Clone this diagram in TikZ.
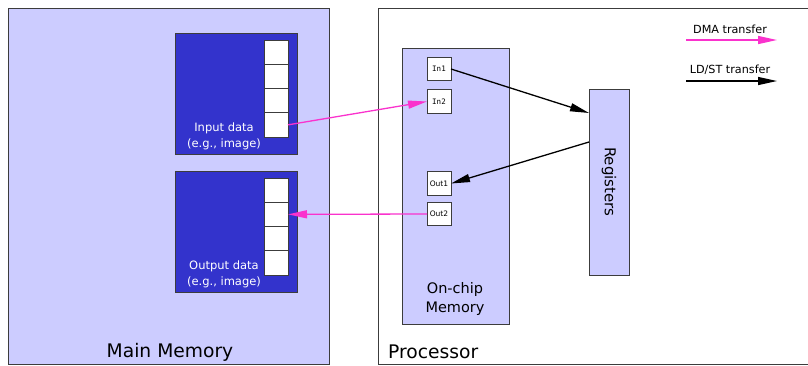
\documentclass[tikz,border=0pt]{standalone}
\usepackage{fontspec}
\setmainfont{DejaVu Sans}
\setmonofont{DejaVu Sans Mono}
\usetikzlibrary{arrows.meta}
\definecolor{memlilac}{RGB}{204,204,255}
\definecolor{datablue}{RGB}{51,51,204}
\definecolor{dmapink}{RGB}{250,50,205}
\definecolor{edgegray}{RGB}{60,60,60}

\begin{document}
\begin{tikzpicture}[x=1pt, y=-1pt,
  box/.style={draw=edgegray, line width=0.8pt, inner sep=0pt, outer sep=0pt},
  cellbox/.style={box, fill=white, minimum width=24pt, minimum height=24.25pt},
  slotbox/.style={box, fill=white, minimum width=24pt, minimum height=23.5pt, font=\fontsize{7.5}{8}\selectfont},
  dma/.style={dmapink, line width=1.3pt, -{Triangle[length=19pt, width=8pt]}},
  ldst/.style={black, line width=1.3pt, -{Triangle[length=19pt, width=8pt]}},
  txt/.style={inner sep=0pt, align=center}]
  \useasboundingbox (0,0) rectangle (808,365);
  % the two big blocks
  \node[box, fill=memlilac, minimum width=321pt, minimum height=356pt] (mainmem) at (168.5,186) {};
  \node[box, fill=white, minimum width=440pt, minimum height=356pt] (proc) at (598,186) {};
  \node[txt, font=\fontsize{18.7}{20}\selectfont] (mainlbl) at (170,352) {Main Memory};
  \node[txt, anchor=west, font=\fontsize{18.7}{20}\selectfont] (proclbl) at (388,352) {Processor};
  % input / output buffers in main memory
  \node[box, fill=datablue, minimum width=122pt, minimum height=121pt] (indata) at (236,93.5) {};
  \node[box, fill=datablue, minimum width=122pt, minimum height=121pt] (outdata) at (236,231.5) {};
  \foreach \i in {1,...,4} {
    \node[cellbox] (incell\i) at (276,52.1+24.25*\i-24.25) {};
    \node[cellbox] (outcell\i) at (276,190.1+24.25*\i-24.25) {};
  }
  \node[txt, white, font=\fontsize{11.5}{16}\selectfont] (inlbl) at (224,136) {Input data\\(e.g., image)};
  \node[txt, white, font=\fontsize{11.5}{16}\selectfont] (outlbl) at (224,274.5) {Output data\\(e.g., image)};
  % on-chip memory and registers
  \node[box, fill=memlilac, minimum width=107pt, minimum height=276pt] (onchip) at (455.5,186) {};
  \node[txt, font=\fontsize{14.5}{18.5}\selectfont] (onchiplbl) at (455,299) {On-chip\\Memory};
  \node[slotbox, font=\fontsize{7.5}{8}\ttfamily] (in1) at (439,69) {In1};
  \node[slotbox, font=\fontsize{7.5}{8}\ttfamily] (in2) at (439,101.5) {In2};
  \node[slotbox] (out1) at (439,183.5) {Out1};
  \node[slotbox] (out2) at (439,214) {Out2};
  \node[box, fill=memlilac, minimum width=40pt, minimum height=186pt] (regs) at (609,182) {};
  \node[txt, rotate=-90, font=\fontsize{15}{16}\selectfont] (regslbl) at (609,182) {Registers};
  % transfers
  \draw[dma] (incell4.east) -- (in2.west);
  \draw[dma] (out2.west) -- (outcell2.east);
  \draw[ldst] (in1.east) -- ([yshift=-24pt]regs.north west);
  \draw[ldst] ([yshift=-53pt]regs.north west) -- (out1.east);
  % legend
  \coordinate (dmaA) at (686,40);
  \coordinate (dmaB) at (777,40);
  \coordinate (ldstA) at (686,81);
  \coordinate (ldstB) at (777,81);
  \draw[dma] (dmaA) -- (dmaB);
  \draw[ldst] (ldstA) -- (ldstB);
  \node[txt, font=\fontsize{11.2}{13}\selectfont] (dmalbl) at (730,29) {DMA transfer};
  \node[txt, font=\fontsize{11.2}{13}\selectfont] (ldstlbl) at (730,70) {LD/ST transfer};
\end{tikzpicture}
\end{document}
